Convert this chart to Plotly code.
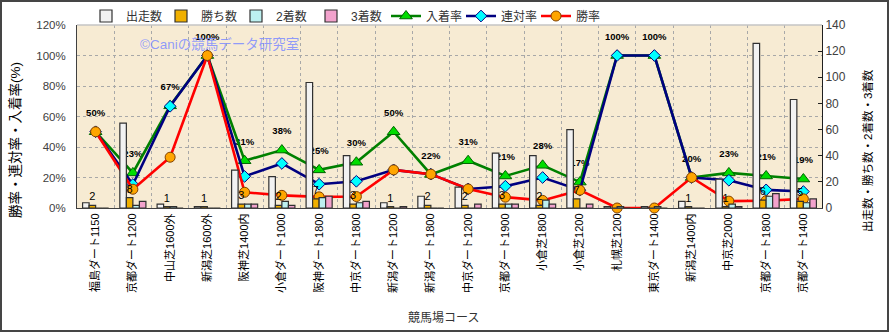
import plotly.graph_objects as go

# Courses on the category axis
courses = ["福島ダート1150", "京都ダート1200", "中山芝1600外", "新潟芝1600外", "阪神芝1400内",
           "小倉ダート1000", "阪神ダート1800", "中京ダート1800", "新潟ダート1200", "新潟ダート1800",
           "中京ダート1200", "京都ダート1900", "小倉芝1800", "小倉芝1200", "札幌芝1200",
           "東京ダート1400", "新潟芝1400内", "中京芝2000", "京都ダート1800", "京都ダート1400"]

# Counts (right axis)
starts = [4, 65, 3, 1, 29, 24, 96, 40, 4, 9, 16, 42, 40, 60, 1, 1, 5, 22, 126, 83]
wins = [2, 8, 1, 1, 3, 2, 7, 3, 1, 2, 2, 3, 2, 7, 0, 0, 1, 1, 6, 5]
seconds = [0, 2, 1, 0, 3, 5, 8, 4, 0, 0, 0, 3, 6, 0, 1, 1, 0, 3, 9, 4]
thirds = [0, 5, 0, 0, 3, 2, 9, 5, 1, 0, 3, 3, 3, 3, 0, 0, 0, 1, 11, 7]

# Rates in percent (left axis)
place_rate = [50, 23, 67, 100, 31, 38, 25, 30, 50, 22, 31, 21, 28, 17, 100, 100, 20, 23, 21, 19]
quinella_rate = [50, 15.4, 66.7, 100, 20.7, 29.2, 15.6, 17.5, 25, 22.2, 12.5, 14.3, 20, 11.7,
                 100, 100, 20, 18.2, 11.9, 10.8]
win_rate = [50, 12.3, 33.3, 100, 10.3, 8.3, 7.3, 7.5, 25, 22.2, 12.5, 7.1, 5, 11.7,
            0, 0, 20, 4.5, 4.8, 6.0]

# Axis ticks
pct_ticks = [0, 20, 40, 60, 80, 100, 120]
pct_labels = [f"{v}%" for v in pct_ticks]

pos = list(range(len(courses)))

W, H = 889, 332
ML, MR, MT, MB = 77, 67, 25, 124
PW, PH = W - ML - MR, H - MT - MB


def px_x(px):
    return (px - ML) / PW


def px_y(py):
    return (H - MB - py) / PH


fig = go.Figure()

bar_series = [
    ("出走数", starts, "#F2F2F2"),
    ("勝ち数", wins, "#F0B000"),
    ("2着数", seconds, "#BDF0F0"),
    ("3着数", thirds, "#F2A2CC"),
]
for name, vals, color in bar_series:
    kw = {}
    if name == "勝ち数":
        kw = dict(text=[str(v) if v > 0 else "" for v in vals], textposition="outside",
                  textangle=0, constraintext="none", cliponaxis=False,
                  textfont=dict(size=11, color="black"))
    fig.add_trace(go.Bar(
        x=pos, y=vals, name=name, yaxis="y2",
        marker=dict(color=color, line=dict(color="#303030", width=1.2)),
        hoverinfo="skip", **kw))

# Percentage labels for the place rate, lifted clear of the markers
fig.add_trace(go.Scatter(
    x=pos, y=place_rate, mode="markers+text", showlegend=False, hoverinfo="skip",
    text=[f"{v}%" for v in place_rate], textposition="top center",
    textfont=dict(size=9.5, color="black", weight="bold"),
    marker=dict(size=20, opacity=0), cliponaxis=False))

fig.add_trace(go.Scatter(
    x=pos, y=place_rate, name="入着率", mode="lines+markers",
    line=dict(color="#008000", width=2.6),
    marker=dict(symbol="triangle-up", size=11, color="#00DD00",
                line=dict(color="#006400", width=1)),
    cliponaxis=False))
fig.add_trace(go.Scatter(
    x=pos, y=quinella_rate, name="連対率", mode="lines+markers",
    line=dict(color="#000080", width=2.6),
    marker=dict(symbol="diamond", size=9, color="#00FFFF",
                line=dict(color="#000080", width=1)),
    cliponaxis=False))
fig.add_trace(go.Scatter(
    x=pos, y=win_rate, name="勝率", mode="lines+markers",
    line=dict(color="#FF0000", width=2.6),
    marker=dict(symbol="circle", size=10, color="#FFA500",
                line=dict(color="#804000", width=1)),
    cliponaxis=False))

grid = "#A8A8A8"
fig.update_layout(
    width=W, height=H,
    margin=dict(l=ML, r=MR, t=MT, b=MB, autoexpand=False),
    paper_bgcolor="white", plot_bgcolor="#F7EBD3",
    font=dict(family="Liberation Sans, Noto Sans CJK JP, sans-serif", color="#333"),
    barmode="group", bargap=0.3, bargroupgap=0,
    legend=dict(orientation="h", x=px_x(86), xanchor="left", y=px_y(16), yanchor="middle",
                font=dict(size=12, color="#333"), bgcolor="rgba(0,0,0,0)",
                traceorder="normal", entrywidth=30, entrywidthmode="pixels"),
    xaxis=dict(range=[-0.5, len(courses) - 0.5], tickmode="array", tickvals=pos,
               ticktext=courses, tickangle=-90, tickfont=dict(size=11, color="black"),
               showgrid=False, zeroline=False, ticks="",
               showline=True, linecolor="#404040", linewidth=1,
               minor=dict(tickmode="array", tickvals=[p + 0.5 for p in pos[:-1]],
                          showgrid=True, gridcolor=grid, griddash="dot", gridwidth=1,
                          ticks="")),
    yaxis=dict(range=[0, 120], tickmode="array", tickvals=pct_ticks, ticktext=pct_labels,
               tickfont=dict(size=11.5, color="#404040"), ticklabelstandoff=8,
               showgrid=True, gridcolor=grid, griddash="dot", gridwidth=1,
               zeroline=False, ticks="", showline=True, linecolor="#404040"),
    yaxis2=dict(range=[0, 140], dtick=20, overlaying="y", side="right", showgrid=False,
                zeroline=False, showline=True, linecolor="#202020", linewidth=1,
                ticks="inside", ticklen=4, tickcolor="#202020",
                tickfont=dict(size=12, color="#404040")),
    annotations=[
        dict(text="勝率・連対率・入着率(%)", xref="paper", yref="paper",
             x=px_x(15), y=px_y(140), xanchor="center", yanchor="middle",
             textangle=-90, showarrow=False, font=dict(size=13.5, color="black")),
        dict(text="出走数・勝ち数・2着数・3着数", xref="paper", yref="paper",
             x=px_x(867), y=px_y(151), xanchor="center", yanchor="middle",
             textangle=-90, showarrow=False, font=dict(size=11.5, color="black")),
        dict(text="競馬場コース", xref="paper", yref="paper",
             x=px_x(443), y=px_y(318), xanchor="center", yanchor="middle",
             showarrow=False, font=dict(size=12, color="#333")),
        dict(text="©Caniの競馬データ研究室", xref="paper", yref="paper",
             x=px_x(219), y=px_y(44), xanchor="center", yanchor="middle",
             showarrow=False, font=dict(size=13.5, color="rgba(125,140,255,0.85)")),
    ],
    shapes=[
        dict(type="line", xref="paper", yref="paper", x0=0, x1=1, y0=1, y1=1,
             line=dict(color="#C4C4C4", width=1.5), layer="above"),
        dict(type="rect", xref="paper", yref="paper",
             x0=px_x(1), x1=px_x(W - 1), y0=px_y(H - 1), y1=px_y(1),
             line=dict(color="#454545", width=2), layer="above"),
    ],
)

fig.write_html("out.html")
